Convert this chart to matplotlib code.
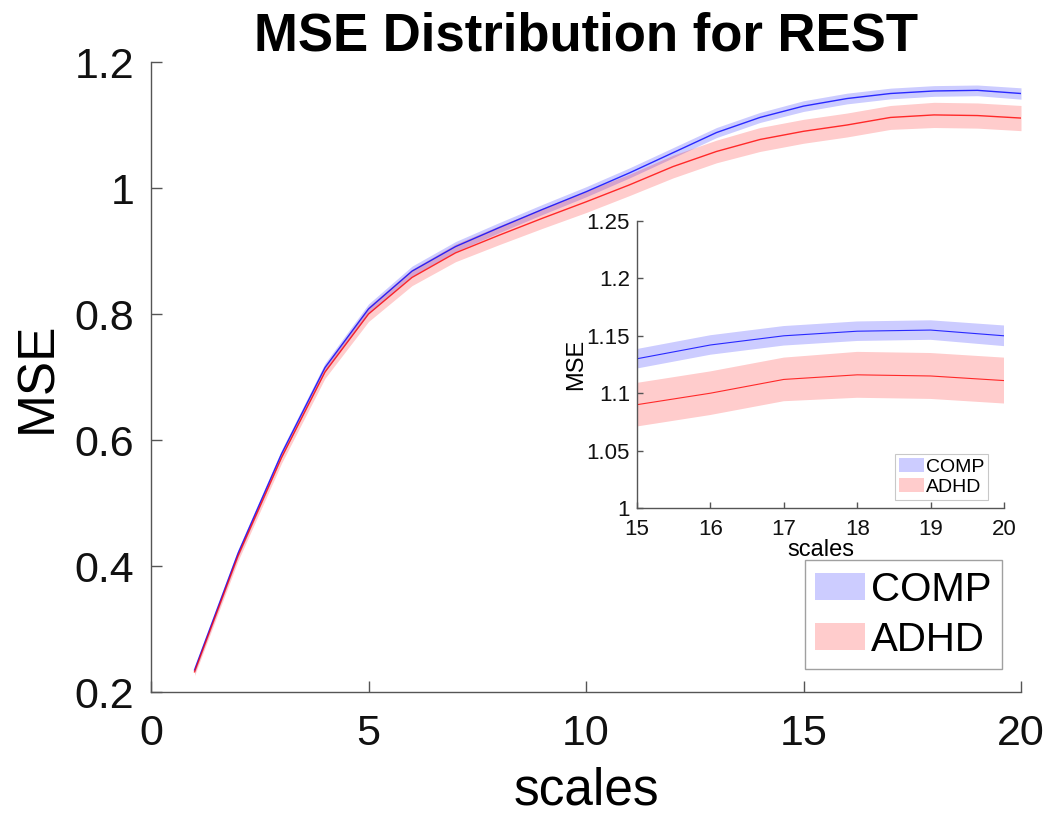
import matplotlib
matplotlib.use("Agg")
import matplotlib.pyplot as plt
from matplotlib.ticker import FuncFormatter
import numpy as np

plt.rcParams['font.family'] = ['Liberation Sans', 'DejaVu Sans']

scales = list(range(1, 21))
comp_mean = [0.235, 0.420, 0.578, 0.715, 0.808, 0.868, 0.907, 0.937, 0.966, 0.994,
             1.024, 1.056, 1.088, 1.112, 1.130, 1.142, 1.150, 1.154, 1.155, 1.150]
comp_sem = [0.005, 0.006, 0.006, 0.007, 0.008, 0.008, 0.008, 0.008, 0.008, 0.008,
            0.008, 0.008, 0.008, 0.008, 0.0085, 0.0085, 0.0085, 0.0085, 0.0085, 0.009]
adhd_mean = [0.232, 0.416, 0.572, 0.708, 0.800, 0.858, 0.897, 0.925, 0.952, 0.978,
             1.005, 1.034, 1.058, 1.077, 1.090, 1.100, 1.112, 1.116, 1.115, 1.111]
adhd_sem = [0.006, 0.008, 0.009, 0.010, 0.012, 0.013, 0.014, 0.015, 0.016, 0.017,
            0.017, 0.018, 0.018, 0.019, 0.019, 0.019, 0.019, 0.020, 0.020, 0.020]
group_names = ["COMP", "ADHD"]
title_text = "MSE Distribution for REST"

x = np.array(scales)
cm, cs = np.array(comp_mean), np.array(comp_sem)
am, asem = np.array(adhd_mean), np.array(adhd_sem)

fig = plt.figure(figsize=(10.52, 8.14), dpi=100)
W, H = 1052, 814

def add_ax(l, t, r, b):
    return fig.add_axes([l / W, 1 - b / H, (r - l) / W, (b - t) / H])

axis_col = '#555555'
fmt = FuncFormatter(lambda v, p: ('%g' % round(v, 4)))

def style(ax, ticklen, fs, xpad, ypad):
    for s in ['top', 'right']:
        ax.spines[s].set_visible(False)
    for s in ['left', 'bottom']:
        ax.spines[s].set_color(axis_col)
        ax.spines[s].set_linewidth(1.0)
    ax.tick_params(direction='in', length=ticklen, width=1.0, color=axis_col,
                   labelsize=fs, labelcolor='#111111')
    ax.tick_params(axis='x', pad=xpad)
    ax.tick_params(axis='y', pad=ypad)
    ax.xaxis.set_major_formatter(fmt)
    ax.yaxis.set_major_formatter(fmt)

def draw(ax, lw):
    h1 = ax.fill_between(x, cm - cs, cm + cs, color=(0, 0, 1), alpha=0.2, linewidth=0,
                         label=group_names[0])
    ax.plot(x, cm, color='blue', linewidth=lw, alpha=0.8)
    h2 = ax.fill_between(x, am - asem, am + asem, color=(1, 0, 0), alpha=0.2, linewidth=0,
                         label=group_names[1])
    ax.plot(x, am, color='red', linewidth=lw, alpha=0.8)
    return [h1, h2]

# Main axes
ax = add_ax(151, 62, 1021, 692)
handles = draw(ax, 1.0)
ax.set_xlim(0, 20)
ax.set_ylim(0.2, 1.2)
ax.set_xticks([0, 5, 10, 15, 20])
ax.set_yticks([0.2, 0.4, 0.6, 0.8, 1.0, 1.2])
style(ax, 8, 31, 16, 12)
ax.set_xlabel('scales', fontsize=37)
ax.set_ylabel('MSE', fontsize=37)
ax.xaxis.set_label_coords(0.5, -0.118)
ax.yaxis.set_label_coords(-0.102, 0.5)
ax.set_title(title_text, fontsize=38, fontweight='bold', pad=8)
leg = ax.legend(handles=handles, loc='lower right', bbox_to_anchor=(0.978, 0.037),
                fontsize=29, frameon=True, fancybox=False, handlelength=1.25,
                handleheight=0.65, handletextpad=0.15, borderpad=0.25,
                labelspacing=0.3, borderaxespad=0)
leg.get_frame().set_edgecolor('#888888')
leg.get_frame().set_linewidth(1.0)

# Inset axes
ia = add_ax(637, 221, 1004, 508)
ih = draw(ia, 0.8)
ia.set_xlim(15, 20)
ia.set_ylim(1.0, 1.25)
ia.set_xticks([15, 16, 17, 18, 19, 20])
ia.set_yticks([1.0, 1.05, 1.1, 1.15, 1.2, 1.25])
style(ia, 4, 16, 8, 5)
ia.set_xlabel('scales', fontsize=17)
ia.set_ylabel('MSE', fontsize=17)
ia.xaxis.set_label_coords(0.5, -0.108)
ia.yaxis.set_label_coords(-0.136, 0.5)
ileg = ia.legend(handles=ih, loc='lower right', bbox_to_anchor=(0.957, 0.028),
                 fontsize=14, frameon=True, fancybox=False, handlelength=1.3,
                 handleheight=0.7, handletextpad=0.1, borderpad=0.2,
                 labelspacing=0.15, borderaxespad=0)
ileg.get_frame().set_edgecolor('#bbbbbb')
ileg.get_frame().set_linewidth(0.8)

fig.savefig('out.png', dpi=100)
